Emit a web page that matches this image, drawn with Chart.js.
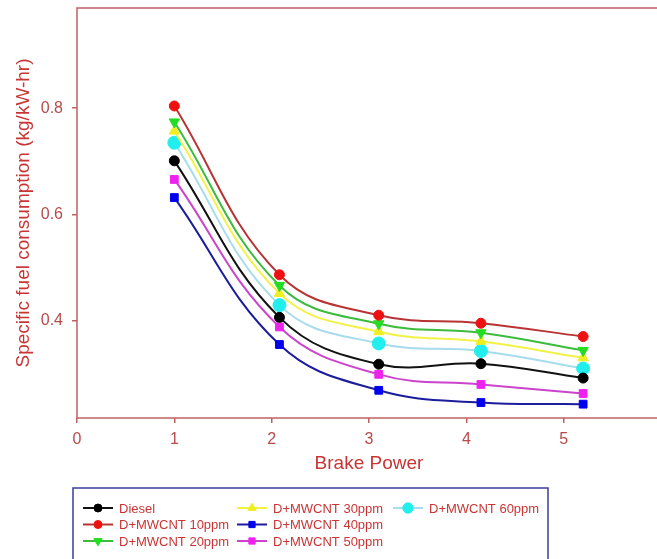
<!DOCTYPE html>
<html>
<head>
<meta charset="utf-8">
<script src="https://cdn.jsdelivr.net/npm/chart.js@4.4.1/dist/chart.umd.min.js"></script>
<style>
    html, body { margin: 0; padding: 0; background: #fff; overflow: hidden; }
    #wrap { width: 680px; height: 559px; position: relative; }
</style>
</head>
<body>
<div id="wrap"><canvas id="sfcChart"></canvas></div>
<script>
// data
const brakePower = [1, 2.08, 3.1, 4.15, 5.2];
const diesel  = [0.701, 0.407, 0.319, 0.320, 0.293];
const mwcnt10 = [0.804, 0.487, 0.411, 0.396, 0.371];
const mwcnt20 = [0.774, 0.467, 0.395, 0.378, 0.345];
const mwcnt30 = [0.757, 0.452, 0.380, 0.362, 0.331];
const mwcnt40 = [0.632, 0.356, 0.270, 0.247, 0.244];
const mwcnt50 = [0.666, 0.389, 0.300, 0.281, 0.264];
const mwcnt60 = [0.735, 0.430, 0.358, 0.344, 0.311];
const seriesNames = ["Diesel", "D+MWCNT 10ppm", "D+MWCNT 20ppm", "D+MWCNT 30ppm",
    "D+MWCNT 40ppm", "D+MWCNT 50ppm", "D+MWCNT 60ppm"];
const xTicks = [0, 1, 2, 3, 4, 5, 6];
const yTicks = [0.4, 0.6, 0.8];

const axisRed = "#b84a4a";
const titleRed = "#c93535";

function serie(nome, valores, linha, marca, estilo, raio, rot) {
    return {
        label: nome,
        data: brakePower.map((x, i) => ({ x: x, y: valores[i] })),
        borderColor: linha,
        borderWidth: 2,
        backgroundColor: marca,
        pointBackgroundColor: marca,
        pointBorderColor: marca,
        pointBorderWidth: 1,
        pointStyle: estilo,
        pointRadius: raio,
        pointRotation: rot || 0,
        tension: 0.4,
        fill: false
    };
}

const datasets = [
    serie(seriesNames[0], diesel,  "#111111", "#000000", "circle", 5),
    serie(seriesNames[1], mwcnt10, "#b83434", "#ee1111", "circle", 5),
    serie(seriesNames[2], mwcnt20, "#3cbb3c", "#22dd22", "triangle", 6, 180),
    serie(seriesNames[3], mwcnt30, "#f2f244", "#eeee22", "triangle", 6),
    serie(seriesNames[4], mwcnt40, "#1c1c9c", "#0000ee", "rect", 5.5),
    serie(seriesNames[5], mwcnt50, "#cc44cc", "#ee22ee", "rect", 5.5),
    serie(seriesNames[6], mwcnt60, "#a6dcec", "#22eeee", "circle", 6.5)
];

// frame around the plot + legend box (3 rows, column-major like the original)
const moldura = {
    id: "moldura",
    afterDraw(chart) {
        const ctx = chart.ctx;
        const a = chart.chartArea;
        ctx.save();
        ctx.strokeStyle = "#c06060";
        ctx.lineWidth = 1.5;
        ctx.strokeRect(a.left, a.top, a.right - a.left, a.bottom - a.top);

        ctx.strokeStyle = "#3c3c9c";
        ctx.lineWidth = 1.5;
        ctx.strokeRect(73, 488, 475, 90);

        const colX = [83, 237, 393];
        const rowY = [508, 524.5, 541];
        ctx.font = "13px 'Liberation Sans', Arial, sans-serif";
        ctx.textBaseline = "middle";
        chart.data.datasets.forEach((ds, i) => {
            const x = colX[Math.floor(i / 3)];
            const y = rowY[i % 3];
            ctx.strokeStyle = ds.borderColor;
            ctx.lineWidth = 2;
            ctx.beginPath();
            ctx.moveTo(x, y);
            ctx.lineTo(x + 30, y);
            ctx.stroke();
            ctx.fillStyle = ds.pointBackgroundColor;
            ctx.strokeStyle = ds.pointBorderColor;
            ctx.lineWidth = 1;
            Chart.helpers.drawPoint(ctx, {
                pointStyle: ds.pointStyle,
                radius: ds.pointRadius * 0.8,
                rotation: ds.pointRotation,
                borderWidth: 1
            }, x + 15, y);
            ctx.fillStyle = titleRed;
            ctx.fillText(ds.label, x + 36, y + 1);
        });
        ctx.restore();
    }
};

new Chart(document.getElementById("sfcChart"), {
    type: "line",
    data: { datasets: datasets },
    options: {
        responsive: true,
        maintainAspectRatio: false,
        animation: false,
        layout: { padding: { top: 8, right: 19, left: 0, bottom: 0 } },
        plugins: {
            legend: { display: false },
            tooltip: { enabled: false }
        },
        scales: {
            x: {
                type: "linear",
                min: 0,
                max: 6,
                afterBuildTicks: s => { s.ticks = xTicks.map(v => ({ value: v })); },
                afterFit: s => { s.height = 141; s.paddingLeft = 0; s.paddingRight = 0; },
                grid: { drawOnChartArea: false, tickLength: 5, color: "#c06060", lineWidth: 1.5 },
                border: { display: false },
                ticks: {
                    color: axisRed,
                    padding: 7,
                    maxRotation: 0,
                    font: { family: "'Liberation Sans', Arial, sans-serif", size: 16 },
                    callback: v => String(v)
                },
                title: {
                    display: true,
                    text: "Brake Power",
                    color: titleRed,
                    font: { family: "'Liberation Sans', Arial, sans-serif", size: 19 },
                    padding: { top: 0, bottom: 84 }
                }
            },
            y: {
                min: 0.218,
                max: 0.988,
                afterBuildTicks: s => { s.ticks = yTicks.map(v => ({ value: v })); },
                afterFit: s => { s.width = 77; s.paddingTop = 0; s.paddingBottom = 0; },
                grid: { drawOnChartArea: false, tickLength: 5, color: "#c06060", lineWidth: 1.5 },
                border: { display: false },
                ticks: {
                    color: axisRed,
                    padding: 9,
                    font: { family: "'Liberation Sans', Arial, sans-serif", size: 16 },
                    callback: v => v.toFixed(1)
                },
                title: {
                    display: true,
                    text: "Specific fuel consumption (kg/kW-hr)",
                    color: titleRed,
                    font: { family: "'Liberation Sans', Arial, sans-serif", size: 19 },
                    padding: { top: 12, bottom: 0 }
                }
            }
        }
    },
    plugins: [moldura]
});
</script>
</body>
</html>
